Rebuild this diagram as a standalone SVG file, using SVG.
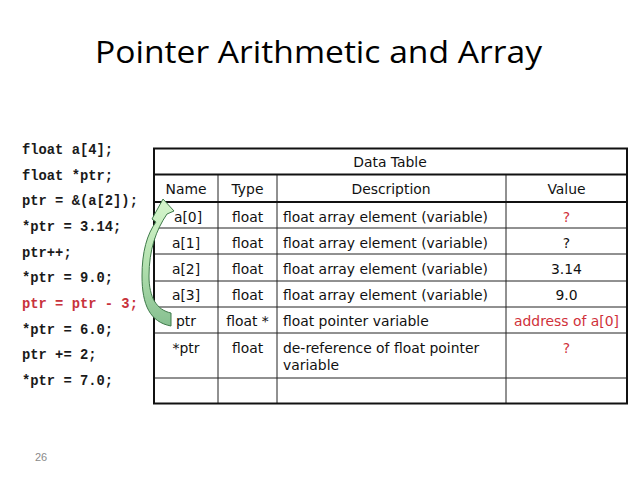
<svg xmlns="http://www.w3.org/2000/svg" width="638" height="479" viewBox="0 0 638 479">
<style>
.title{font-family:"Open Sans","Noto Sans","Liberation Sans",sans-serif;font-size:31px;fill:#000}
.code{font-family:"Liberation Mono","Courier New",monospace;font-weight:bold;font-size:13.8px;fill:#1a1a1a;white-space:pre}
.red{fill:#c8323c}
.cell{font-family:"DejaVu Sans",Verdana,sans-serif;font-size:13.9px;fill:#111}
.c{text-anchor:middle}
.val-red{fill:#d0313a}
.thin{stroke:#222;stroke-width:1;fill:none}
.thick{stroke:#111;stroke-width:2;fill:none}
.pg{font-family:"Liberation Sans",Arial,sans-serif;font-size:11px;fill:#8a8a8a}
</style>
<defs>
<linearGradient id="grn" x1="0" y1="0" x2="0" y2="1">
<stop offset="0" stop-color="#d6f6cc"/>
<stop offset="0.5" stop-color="#b4e2b0"/>
<stop offset="1" stop-color="#86bf90"/>
</linearGradient>
</defs>
<rect width="638" height="479" fill="#fff"/>
<text class="title" x="95" y="63" textLength="447" lengthAdjust="spacingAndGlyphs">Pointer Arithmetic and Array</text>

<g id="code">
<text class="code" x="22" y="154">float a[4];</text>
<text class="code" x="22" y="180">float *ptr;</text>
<text class="code" x="22" y="205">ptr = &amp;(a[2]);</text>
<text class="code" x="22" y="231">*ptr = 3.14;</text>
<text class="code" x="22" y="257">ptr++;</text>
<text class="code" x="22" y="282">*ptr = 9.0;</text>
<text class="code red" x="22" y="308">ptr = ptr - 3;</text>
<text class="code" x="22" y="334">*ptr = 6.0;</text>
<text class="code" x="22" y="359">ptr += 2;</text>
<text class="code" x="22" y="385">*ptr = 7.0;</text>
</g>

<g id="table">
<g id="grid">
<line class="thin" x1="154" y1="228" x2="627" y2="228"/>
<line class="thin" x1="154" y1="254" x2="627" y2="254"/>
<line class="thin" x1="154" y1="281" x2="627" y2="281"/>
<line class="thin" x1="154" y1="307" x2="627" y2="307"/>
<line class="thin" x1="154" y1="333" x2="627" y2="333"/>
<line class="thin" x1="154" y1="378" x2="627" y2="378"/>
<line class="thin" x1="218" y1="174" x2="218" y2="404"/>
<line class="thin" x1="277" y1="174" x2="277" y2="404"/>
<line class="thin" x1="506" y1="174" x2="506" y2="404"/>
<line class="thick" x1="154" y1="174.5" x2="627" y2="174.5"/>
<line class="thick" x1="154" y1="202" x2="627" y2="202"/>
<rect class="thick" x="154" y="148.5" width="473" height="255"/>
</g>
<g id="title-row"><text class="cell c" x="390" y="167">Data Table</text></g>
<g id="header">
<text class="cell c" x="186" y="194">Name</text>
<text class="cell c" x="247.5" y="194">Type</text>
<text class="cell c" x="391" y="194">Description</text>
<text class="cell c" x="566.5" y="194">Value</text>
</g>
<g id="row-a0">
<text class="cell c" x="188" y="222">a[0]</text>
<text class="cell c" x="247.5" y="222">float</text>
<text class="cell" x="283" y="222">float array element (variable)</text>
<text class="cell c val-red" x="566.5" y="222">?</text>
</g>
<g id="row-a1">
<text class="cell c" x="186" y="248">a[1]</text>
<text class="cell c" x="247.5" y="248">float</text>
<text class="cell" x="283" y="248">float array element (variable)</text>
<text class="cell c" x="566.5" y="248">?</text>
</g>
<g id="row-a2">
<text class="cell c" x="186" y="274">a[2]</text>
<text class="cell c" x="247.5" y="274">float</text>
<text class="cell" x="283" y="274">float array element (variable)</text>
<text class="cell c" x="566.5" y="274">3.14</text>
</g>
<g id="row-a3">
<text class="cell c" x="186" y="300">a[3]</text>
<text class="cell c" x="247.5" y="300">float</text>
<text class="cell" x="283" y="300">float array element (variable)</text>
<text class="cell c" x="566.5" y="300">9.0</text>
</g>
<g id="row-ptr">
<text class="cell c" x="186" y="326">ptr</text>
<text class="cell c" x="247.5" y="326">float *</text>
<text class="cell" x="283" y="326">float pointer variable</text>
<text class="cell c val-red" x="566.5" y="326">address of a[0]</text>
</g>
<g id="row-deref">
<text class="cell c" x="186" y="353">*ptr</text>
<text class="cell c" x="247.5" y="353">float</text>
<text class="cell" x="283" y="353">de-reference of float pointer</text>
<text class="cell" x="283" y="370">variable</text>
<text class="cell c val-red" x="566.5" y="353">?</text>
</g>
</g>

<g id="connectors">
<path d="M171 326 C150 322 142 305 142 276 C142 252 147 234 156 222 L152 219 L163 199 L174 211 L167 214 C156 230 149 250 149 276 C149 298 157 310 171 313 Z" fill="url(#grn)" stroke="#3f7a4a" stroke-width="1"/>
</g>

<text class="pg" x="35" y="461">26</text>
</svg>
